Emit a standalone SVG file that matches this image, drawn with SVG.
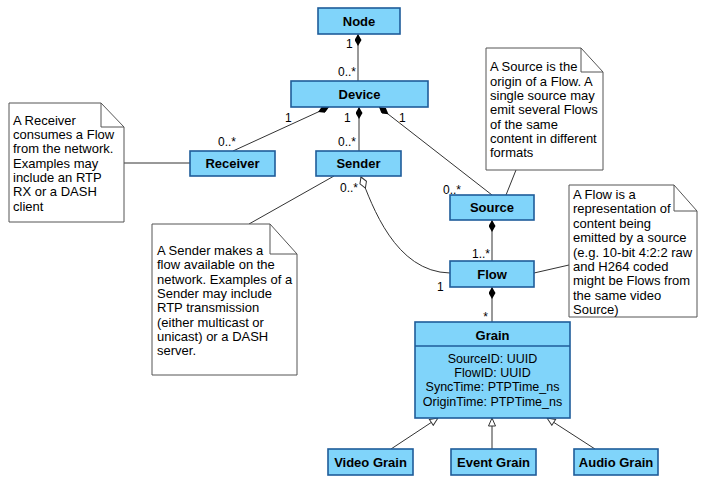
<svg xmlns="http://www.w3.org/2000/svg" width="718" height="484" viewBox="0 0 718 484">
<defs>
<style>
.box{fill:#80D4FA;stroke:#1F5C9A;stroke-width:1.6}
.note{fill:#fff;stroke:#555;stroke-width:1}
.fold{fill:none;stroke:#555;stroke-width:1}
.name{font-family:"Liberation Sans",Arial,sans-serif;font-weight:bold;font-size:13px;text-anchor:middle;fill:#000}
.attr{font-family:"Liberation Sans",Arial,sans-serif;font-size:12.5px;text-anchor:middle;fill:#000}
.ntxt{font-family:"Liberation Sans",Arial,sans-serif;font-size:13px;fill:#000}
.lbl{font-family:"Liberation Sans",Arial,sans-serif;font-size:12px;fill:#000}
.con{fill:none;stroke:#333;stroke-width:1}
</style>
<marker id="dia" viewBox="0 0 12 7" refX="0" refY="3.5" markerWidth="12" markerHeight="7" markerUnits="userSpaceOnUse" orient="auto">
<path d="M0,3.5 L6,0 L12,3.5 L6,7 Z" fill="#000"/>
</marker>
<marker id="odia" viewBox="-1 -1 14 9" refX="0" refY="3.5" markerWidth="14" markerHeight="9" markerUnits="userSpaceOnUse" orient="auto">
<path d="M0,3.5 L6,0 L12,3.5 L6,7 Z" fill="#fff" stroke="#333" stroke-width="1"/>
</marker>
<marker id="tri" viewBox="-1 -1 10 9" refX="8" refY="3.5" markerWidth="10" markerHeight="9" markerUnits="userSpaceOnUse" orient="auto">
<path d="M0,0 L8,3.5 L0,7 Z" fill="#fff" stroke="#333" stroke-width="1"/>
</marker>
</defs>
<rect width="718" height="484" fill="#fff"/>

<g id="connectors">
<path class="con" d="M358,34 L358,81" marker-start="url(#dia)"/>
<path class="con" d="M329,107 L233,151" marker-start="url(#dia)"/>
<path class="con" d="M359,107 L359,151" marker-start="url(#dia)"/>
<path class="con" d="M379,107 L492,195" marker-start="url(#dia)"/>
<path class="con" d="M492,220 L492,261" marker-start="url(#dia)"/>
<path class="con" d="M492,287 L492,322" marker-start="url(#dia)"/>
<path class="con" d="M361,177 C372,205 395,272 450,273" marker-start="url(#odia)"/>
<path class="con" d="M124,163 L190,163"/>
<path class="con" d="M249,224 L334,176"/>
<path class="con" d="M506,195 L516,170"/>
<path class="con" d="M534,273 L569,265"/>
<path class="con" d="M391,449 L438,418" marker-end="url(#tri)"/>
<path class="con" d="M492,449 L492,418" marker-end="url(#tri)"/>
<path class="con" d="M595,449 L547,418" marker-end="url(#tri)"/>
<text class="lbl" x="346" y="48">1</text>
<text class="lbl" x="356" y="76" text-anchor="end">0..*</text>
<text class="lbl" x="285" y="122">1</text>
<text class="lbl" x="344" y="122">1</text>
<text class="lbl" x="399" y="122">1</text>
<text class="lbl" x="236" y="146" text-anchor="end">0..*</text>
<text class="lbl" x="356" y="146" text-anchor="end">0..*</text>
<text class="lbl" x="358" y="192" text-anchor="end">0..*</text>
<text class="lbl" x="461" y="194" text-anchor="end">0..*</text>
<text class="lbl" x="490" y="258" text-anchor="end">1..*</text>
<text class="lbl" x="437" y="291">1</text>
<text class="lbl" x="488" y="321" text-anchor="end">*</text>
</g>

<g id="node-node">
<rect class="box" x="318" y="8" width="82" height="26"/>
<text class="name" x="359" y="26">Node</text>
</g>
<g id="node-device">
<rect class="box" x="291" y="81" width="137" height="26"/>
<text class="name" x="359.500" y="99">Device</text>
</g>
<g id="node-receiver">
<rect class="box" x="190" y="151" width="85" height="25"/>
<text class="name" x="232.500" y="168">Receiver</text>
</g>
<g id="node-sender">
<rect class="box" x="316" y="151" width="85" height="25"/>
<text class="name" x="358.500" y="168">Sender</text>
</g>
<g id="node-source">
<rect class="box" x="450" y="195" width="84" height="25"/>
<text class="name" x="492" y="212">Source</text>
</g>
<g id="node-flow">
<rect class="box" x="450" y="261" width="84" height="26"/>
<text class="name" x="492" y="279">Flow</text>
</g>
<g id="node-grain">
<rect class="box" x="415" y="322" width="155" height="96"/>
<line x1="415" y1="346" x2="570" y2="346" stroke="#1F5C9A" stroke-width="1.6"/>
<text class="name" x="492.500" y="340">Grain</text>
<text class="attr" x="492.500" y="363">SourceID: UUID</text>
<text class="attr" x="492.500" y="377">FlowID: UUID</text>
<text class="attr" x="492.500" y="391">SyncTime: PTPTime_ns</text>
<text class="attr" x="492.500" y="406">OriginTime: PTPTime_ns</text>
</g>
<g id="node-videograin">
<rect class="box" x="328" y="449" width="85" height="26"/>
<text class="name" x="370.500" y="467">Video Grain</text>
</g>
<g id="node-eventgrain">
<rect class="box" x="451" y="449" width="85" height="26"/>
<text class="name" x="493.500" y="467">Event Grain</text>
</g>
<g id="node-audiograin">
<rect class="box" x="574" y="449" width="84" height="26"/>
<text class="name" x="616" y="467">Audio Grain</text>
</g>

<g id="note-receiver">
<path class="note" d="M9,103 L101,103 L124,127 L124,222 L9,222 Z"/>
<path class="fold" d="M101,103 L101,127 L124,127"/>
<text class="ntxt" x="13" y="125">A Receiver</text>
<text class="ntxt" x="13" y="139">consumes a Flow</text>
<text class="ntxt" x="13" y="153">from the network.</text>
<text class="ntxt" x="13" y="168">Examples may</text>
<text class="ntxt" x="13" y="182">include an RTP</text>
<text class="ntxt" x="13" y="196">RX or a DASH</text>
<text class="ntxt" x="13" y="211">client</text>
</g>
<g id="note-sender">
<path class="note" d="M152,224 L270,224 L297,254 L297,375 L152,375 Z"/>
<path class="fold" d="M270,224 L270,254 L297,254"/>
<text class="ntxt" x="157" y="255">A Sender makes a</text>
<text class="ntxt" x="157" y="269">flow available on the</text>
<text class="ntxt" x="157" y="284">network. Examples of a</text>
<text class="ntxt" x="157" y="298">Sender may include</text>
<text class="ntxt" x="157" y="312">RTP transmission</text>
<text class="ntxt" x="157" y="327">(either multicast or</text>
<text class="ntxt" x="157" y="341">unicast) or a DASH</text>
<text class="ntxt" x="157" y="355">server.</text>
</g>
<g id="note-source">
<path class="note" d="M486,48 L581,48 L603,72 L603,170 L486,170 Z"/>
<path class="fold" d="M581,48 L581,72 L603,72"/>
<text class="ntxt" x="490" y="71">A Source is the</text>
<text class="ntxt" x="490" y="86">origin of a Flow. A</text>
<text class="ntxt" x="490" y="100">single source may</text>
<text class="ntxt" x="490" y="114">emit several Flows</text>
<text class="ntxt" x="490" y="129">of the same</text>
<text class="ntxt" x="490" y="143">content in different</text>
<text class="ntxt" x="490" y="157">formats</text>
</g>
<g id="note-flow">
<path class="note" d="M569,185 L674,185 L697,211 L697,317 L569,317 Z"/>
<path class="fold" d="M674,185 L674,211 L697,211"/>
<text class="ntxt" x="573" y="199">A Flow is a</text>
<text class="ntxt" x="573" y="213">representation of</text>
<text class="ntxt" x="573" y="228">content being</text>
<text class="ntxt" x="573" y="242">emitted by a source</text>
<text class="ntxt" x="573" y="257">(e.g. 10-bit 4:2:2 raw</text>
<text class="ntxt" x="573" y="271">and H264 coded</text>
<text class="ntxt" x="573" y="285">might be Flows from</text>
<text class="ntxt" x="573" y="300">the same video</text>
<text class="ntxt" x="573" y="314">Source)</text>
</g>
</svg>
